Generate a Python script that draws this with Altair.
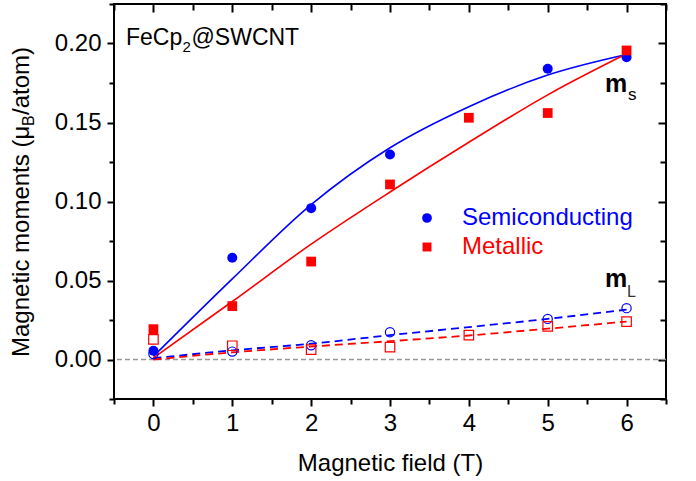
import altair as alt
import pandas as pd

FONT = "Liberation Sans"
BLUE = "#0000FF"
RED = "#FF0000"

# ---------------- data ----------------
semi_ms_x = [0, 1, 2, 3, 5, 6]
semi_ms = [0.0055, 0.0644, 0.0958, 0.1297, 0.1840, 0.1913]
metal_ms_x = [0, 1, 2, 3, 4, 5, 6]
metal_ms = [0.0192, 0.0338, 0.0620, 0.1108, 0.1530, 0.1560, 0.1956]

semi_ml_x = [0, 1, 2, 3, 5, 6]
semi_ml = [0.0035, 0.0050, 0.0090, 0.0173, 0.0257, 0.0325]
metal_ml_x = [0, 1, 2, 3, 4, 5, 6]
metal_ml = [0.0127, 0.0087, 0.0063, 0.0078, 0.0154, 0.0210, 0.0240]

fit_x = [0, 1, 2, 3, 4, 5, 6]
semi_ms_fit = [0.002, 0.051, 0.098, 0.134, 0.160, 0.180, 0.193]
metal_ms_fit = [0.001, 0.0367, 0.073, 0.106, 0.1375, 0.1675, 0.1935]
semi_ml_fit = [0.0008, 0.0058, 0.0100, 0.0154, 0.0205, 0.0257, 0.0316]
metal_ml_fit = [0.0000, 0.0045, 0.0082, 0.0116, 0.0152, 0.0195, 0.0240]

x_major = [0, 1, 2, 3, 4, 5, 6]
x_minor = [-0.5, 0.5, 1.5, 2.5, 3.5, 4.5, 5.5, 6.5]
y_major = [0.0, 0.05, 0.10, 0.15, 0.20]
y_minor = [-0.025, 0.025, 0.075, 0.125, 0.175, 0.225]
zero_line = [0.0]

x_domain = [-0.5, 6.5]
y_domain = [-0.025, 0.225]

# ---------------- helpers ----------------
xs = alt.Scale(domain=x_domain, nice=False, zero=False)
ys = alt.Scale(domain=y_domain, nice=False, zero=False)


def df(xv, yv):
    return pd.DataFrame({"field": xv, "moment": yv})


common = dict(domain=False, grid=False, tickColor="black", tickWidth=2,
              labelFont=FONT, labelColor="black", labelFontSize=24,
              titleFont=FONT, titleColor="black", titleFontSize=24,
              titleFontWeight="normal")

ax_bottom_major = alt.Axis(orient="bottom", values=x_major, tickSize=7, format="d",
                           labelPadding=5, title="Magnetic field (T)",
                           titleBaseline="alphabetic", titleY=71, **common)
ax_left_major = alt.Axis(orient="left", values=y_major, tickSize=7, format=".2f",
                         labelPadding=6, title="", **common)
ax_bottom_minor = alt.Axis(orient="bottom", values=x_minor, tickSize=5, labels=False,
                           title="", **common)
ax_left_minor = alt.Axis(orient="left", values=y_minor, tickSize=5, labels=False,
                         title="", **common)
ax_top_major = alt.Axis(orient="top", values=x_major, tickSize=8, offset=-8,
                        labels=False, title="", **common)
ax_right_major = alt.Axis(orient="right", values=y_major, tickSize=8, offset=-8,
                          labels=False, title="", **common)
ax_top_minor = alt.Axis(orient="top", values=x_minor, tickSize=6, offset=-6,
                        labels=False, title="", **common)
ax_right_minor = alt.Axis(orient="right", values=y_minor, tickSize=6, offset=-6,
                          labels=False, title="", **common)


def enc(xaxis=None, yaxis=None):
    return dict(
        x=alt.X("field:Q", scale=xs, axis=xaxis),
        y=alt.Y("moment:Q", scale=ys, axis=yaxis),
    )


# zero reference line
zero = alt.Chart(pd.DataFrame({"moment": zero_line})).mark_rule(
    color="#999999", strokeWidth=1.3, strokeDash=[5, 3]
).encode(y=alt.Y("moment:Q", scale=ys, axis=None))

# fit lines
l_semi_ms = alt.Chart(df(fit_x, semi_ms_fit)).mark_line(
    color=BLUE, strokeWidth=1.6, interpolate="monotone").encode(**enc())
l_metal_ms = alt.Chart(df(fit_x, metal_ms_fit)).mark_line(
    color=RED, strokeWidth=1.6, interpolate="monotone").encode(**enc())
l_semi_ml = alt.Chart(df(fit_x, semi_ml_fit)).mark_line(
    color=BLUE, strokeWidth=1.8, strokeDash=[8, 5], interpolate="monotone").encode(**enc())
l_metal_ml = alt.Chart(df(fit_x, metal_ml_fit)).mark_line(
    color=RED, strokeWidth=1.8, strokeDash=[8, 5], interpolate="monotone").encode(**enc())

# points (also carrying the axes)
p_semi_ml = alt.Chart(df(semi_ml_x, semi_ml)).mark_point(
    shape="circle", filled=False, color=BLUE, size=85, strokeWidth=1.2, opacity=1
).encode(**enc(ax_top_minor, ax_right_minor))
p_metal_ml = alt.Chart(df(metal_ml_x, metal_ml)).mark_point(
    shape="square", filled=False, color=RED, size=90, strokeWidth=1.2, opacity=1
).encode(**enc(ax_bottom_minor, ax_left_minor))
p_semi_ms = alt.Chart(df(semi_ms_x, semi_ms)).mark_point(
    shape="circle", filled=True, color=BLUE, size=100, opacity=1
).encode(**enc(ax_top_major, ax_right_major))
p_metal_ms = alt.Chart(df(metal_ms_x, metal_ms)).mark_point(
    shape="square", filled=True, color=RED, size=95, opacity=1
).encode(**enc(ax_bottom_major, ax_left_major))


def txt(text, x, y, size=24, color="black", weight="normal", angle=0,
        align="left", baseline="alphabetic"):
    return alt.Chart(pd.DataFrame({"t": [text]})).mark_text(
        text=text, font=FONT, fontSize=size, color=color, fontWeight=weight,
        angle=angle, align=align, baseline=baseline
    ).encode(x=alt.value(x), y=alt.value(y))


annotations = [
    # FeCp2@SWCNT
    txt("FeCp", 12, 41, size=23),
    txt("2", 68.5, 48, size=15),
    txt("@SWCNT", 77.5, 41, size=23),
    # y-axis title (rotated)
    txt("Magnetic moments (\u03bc", -85, 353, angle=270),
    txt("B", -80, 122, size=16, angle=270),
    txt("/atom)", -85, 111, angle=270),
    # m_s and m_L labels
    txt("m", 491, 88, size=25, weight="bold"),
    txt("s", 514, 96, size=17),
    txt("m", 491, 283, size=25, weight="bold"),
    txt("L", 513, 293, size=16, color="#333333"),
    # legend
    txt("Semiconducting", 348, 214, color=BLUE, baseline="middle"),
    txt("Metallic", 348, 243, color=RED, baseline="middle"),
]

leg_semi = alt.Chart(pd.DataFrame({"t": [0]})).mark_point(
    shape="circle", filled=True, color=BLUE, size=95, opacity=1
).encode(x=alt.value(313), y=alt.value(214))
leg_metal = alt.Chart(pd.DataFrame({"t": [0]})).mark_point(
    shape="square", filled=True, color=RED, size=80, opacity=1
).encode(x=alt.value(313), y=alt.value(243))

chart = alt.layer(
    zero, l_semi_ml, l_metal_ml, l_semi_ms, l_metal_ms,
    p_semi_ml, p_metal_ml, p_semi_ms, p_metal_ms,
    leg_semi, leg_metal, *annotations
).resolve_axis(x="independent", y="independent").properties(
    width=552, height=395,
    autosize=alt.AutoSizeParams(type="none"),
    padding={"left": 114, "top": 4, "right": 30, "bottom": 82},
    background="white",
).configure_view(stroke="black", strokeWidth=2)

chart.save("out.html", embed_options={"renderer": "svg", "actions": False})
